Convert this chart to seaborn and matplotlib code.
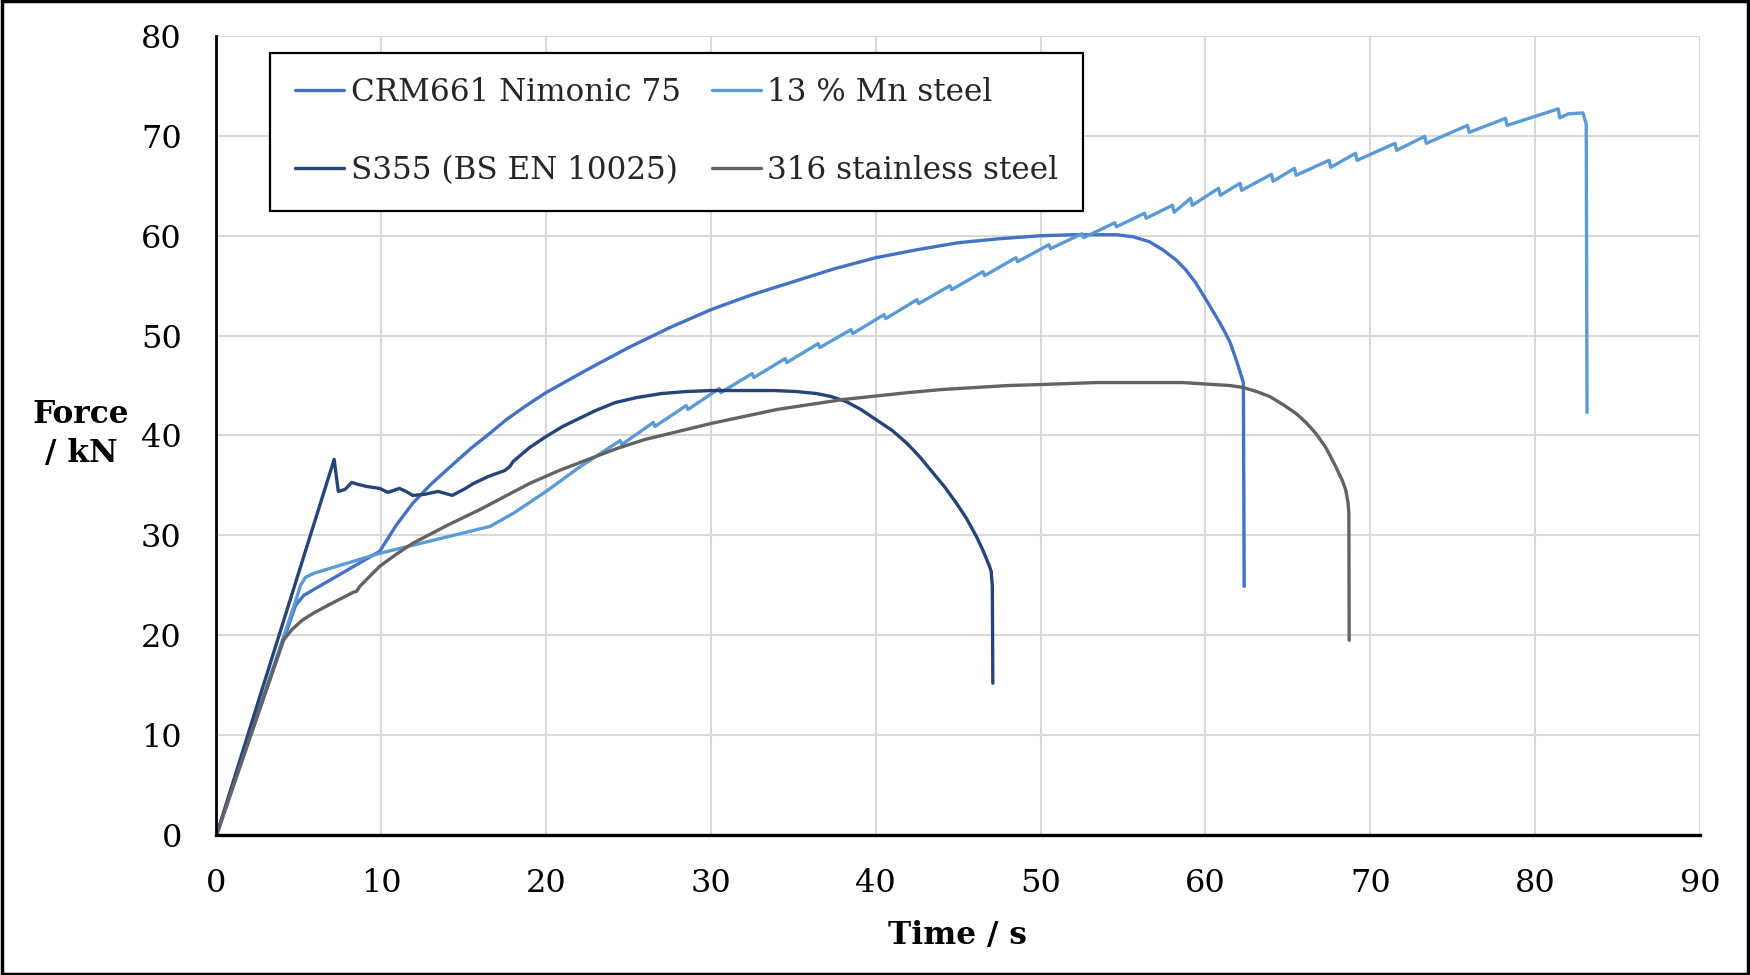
import matplotlib
matplotlib.use("Agg")
import matplotlib.pyplot as plt
import seaborn as sns
import pandas as pd
from matplotlib.patches import Rectangle

# ---------------- data ----------------
nim_t = [0, 4.8, 5.3, 9.9, 10.9, 11.9, 13.0, 14.0, 15.5, 16.5, 17.6, 18.8, 20, 22.5, 25, 27.5,
         30, 32.5, 35, 37.5, 40, 42.5, 45, 47.5, 50, 52, 54.6, 55.6, 56.6, 57.4, 58.2, 58.8,
         59.4, 60.0, 60.65, 61.1, 61.5, 61.9, 62.3, 62.35]
nim_f = [0, 23.0, 24.0, 28.4, 31.0, 33.2, 35.1, 36.6, 38.8, 40.1, 41.6, 43.0, 44.3, 46.6, 48.8, 50.8,
         52.6, 54.1, 55.4, 56.7, 57.8, 58.6, 59.3, 59.7, 60.0, 60.1, 60.1, 59.9, 59.4, 58.6, 57.6, 56.6,
         55.3, 53.7, 51.9, 50.6, 49.3, 47.4, 45.3, 24.9]

mn_t = [0, 4.8, 5.1, 5.4, 5.9, 9.9, 16.6, 18.0, 20.0, 22.0,
        24.5, 24.6, 26.5, 26.6, 28.5, 28.6, 30.5, 30.6, 32.5, 32.6, 34.5, 34.6,
        36.5, 36.6, 38.5, 38.6, 40.5, 40.6, 42.5, 42.6, 44.5, 44.6, 46.5, 46.6,
        48.5, 48.6, 50.5, 50.6, 52.5, 52.6, 54.5, 54.6, 56.3, 56.4,
        58.0, 58.1, 59.1, 59.2, 60.8, 60.9, 62.1, 62.2, 64.0, 64.1, 65.4, 65.5,
        67.5, 67.6, 69.1, 69.2, 71.5, 71.6, 73.3, 73.4, 75.9, 76.0, 78.2, 78.3,
        81.4, 81.5, 82.0, 82.9, 83.1, 83.15]
mn_f = [0, 23.4, 25.0, 25.8, 26.2, 28.2, 30.9, 32.2, 34.4, 36.8,
        39.5, 39.1, 41.3, 40.9, 43.0, 42.6, 44.7, 44.3, 46.2, 45.8, 47.7, 47.3,
        49.2, 48.8, 50.6, 50.2, 52.1, 51.7, 53.6, 53.2, 55.0, 54.6, 56.4, 56.0,
        57.8, 57.4, 59.1, 58.7, 60.2, 59.8, 61.3, 60.9, 62.25, 61.75,
        63.05, 62.35, 63.75, 63.05, 64.75, 64.05, 65.25, 64.55, 66.15, 65.45, 66.75, 66.05,
        67.55, 66.85, 68.25, 67.55, 69.25, 68.55, 69.95, 69.25, 71.05, 70.35, 71.75, 71.05,
        72.7, 71.8, 72.2, 72.3, 71.2, 42.3]

s355_t = [0, 7.14, 7.39, 7.8, 8.2, 8.6, 9.1, 9.9, 10.4, 11.1, 11.5, 11.9, 12.6, 13.45, 14.3,
          15.0, 15.6, 16.5, 17.5, 17.8, 18.0, 19.0, 20.0, 21.0, 22.0, 23.0, 24.2, 25.5, 27.0,
          28.5, 30.0, 33.8, 35.2, 36.4, 37.3, 38.2, 39.1, 40.0, 41.0, 41.9, 42.7, 43.5, 44.2,
          44.9, 45.5, 46.1, 46.5, 46.9, 47.0, 47.07, 47.1]
s355_f = [0, 37.6, 34.4, 34.6, 35.3, 35.1, 34.9, 34.7, 34.3, 34.7, 34.4, 34.0, 34.1, 34.4, 34.0,
          34.6, 35.2, 35.9, 36.5, 36.9, 37.4, 38.8, 39.9, 40.9, 41.7, 42.5, 43.3, 43.8, 44.2,
          44.4, 44.5, 44.5, 44.4, 44.2, 43.9, 43.4, 42.6, 41.6, 40.5, 39.2, 37.8, 36.2, 34.8,
          33.2, 31.7, 29.9, 28.5, 26.9, 26.4, 24.9, 15.2]

ss_t = [0, 4.05, 4.6, 5.2, 5.87, 7.0, 8.3, 8.5, 8.7, 9.9, 10.9, 11.9, 14.0, 16.0, 17.5, 19.0,
        20.8, 22.7, 24.3, 26.0, 28.0, 30.0, 32.0, 34.0, 36.0, 38.0, 40.0, 42.0, 44.0, 46.0,
        48.0, 50.0, 53.4, 58.6, 60.5, 61.5, 62.3, 63.1, 63.9, 64.7, 65.5, 66.1, 66.7, 67.3,
        67.9, 68.3, 68.5, 68.65, 68.7, 68.72]
ss_f = [0, 19.5, 20.6, 21.5, 22.2, 23.2, 24.3, 24.4, 24.9, 26.9, 28.1, 29.2, 31.0, 32.6, 33.9, 35.2,
        36.5, 37.7, 38.7, 39.6, 40.4, 41.2, 41.9, 42.6, 43.1, 43.6, 43.95, 44.3, 44.6, 44.8,
        45.0, 45.1, 45.3, 45.3, 45.1, 45.0, 44.8, 44.4, 43.9, 43.1, 42.2, 41.3, 40.2, 38.8,
        36.9, 35.5, 34.6, 33.3, 32.2, 19.5]

series_names = ["CRM661 Nimonic 75", "13 % Mn steel", "S355 (BS EN 10025)", "316 stainless steel"]
series_colors = ["#4472C4", "#5B9BD5", "#264478", "#636363"]
x_ticks = [0, 10, 20, 30, 40, 50, 60, 70, 80, 90]
y_ticks = [0, 10, 20, 30, 40, 50, 60, 70, 80]

# ---------------- plotting ----------------
sns.set_theme(style="white")
plt.rcParams["font.family"] = ["DejaVu Serif", "DejaVu Sans"]

fig = plt.figure(figsize=(17.5, 9.75), dpi=100)
ax = fig.add_axes([0.1237, 0.1436, 0.9714 - 0.1237, 0.9631 - 0.1436])

data = [(nim_t, nim_f), (mn_t, mn_f), (s355_t, s355_f), (ss_t, ss_f)]
for (t, f), name, col in zip(data, series_names, series_colors):
    df = pd.DataFrame({"t": t, "f": f})
    sns.lineplot(data=df, x="t", y="f", ax=ax, sort=False, estimator=None,
                 color=col, linewidth=2.4, label=name)

ax.set_xlim(0, 90)
ax.set_ylim(0, 80)
ax.set_xticks(x_ticks)
ax.set_yticks(y_ticks)
ax.grid(True, color="#D9D9D9", linewidth=1.5)
ax.set_axisbelow(True)
for s in ["top", "right"]:
    ax.spines[s].set_visible(False)
ax.spines["left"].set_color("black")
ax.spines["left"].set_linewidth(2.0)
ax.spines["bottom"].set_color("black")
ax.spines["bottom"].set_linewidth(2.4)
ax.tick_params(axis="both", length=0, labelsize=23, colors="black")
ax.tick_params(axis="x", pad=24)
ax.tick_params(axis="y", pad=25)

ax.set_xlabel("Time / s", fontsize=22.5, fontweight="bold", color="black", va="center")
ax.xaxis.set_label_coords(0.4996, -0.1257)
ax.set_ylabel("Force\n/ kN", fontsize=22.5, fontweight="bold", color="black",
              rotation=0, ha="center", va="center", linespacing=1.35)
ax.yaxis.set_label_coords(-0.0913, 0.502)

h, l = ax.get_legend_handles_labels()
order = [0, 2, 1, 3]
leg = ax.legend([h[i] for i in order], [l[i] for i in order], ncol=2,
                loc="upper left", bbox_to_anchor=(0.0361, 0.9793), borderaxespad=0,
                fontsize=22.3, frameon=True, fancybox=False, framealpha=1,
                edgecolor="black", handlelength=1.6, handletextpad=0.2,
                columnspacing=1.0, labelspacing=1.5, borderpad=0.8)
leg.get_frame().set_linewidth(1.6)

fig.patches.append(Rectangle((0.001, 0.0015), 0.998, 0.997, transform=fig.transFigure,
                             fill=False, edgecolor="black", linewidth=2.5))

fig.savefig("out.png", dpi=100)
